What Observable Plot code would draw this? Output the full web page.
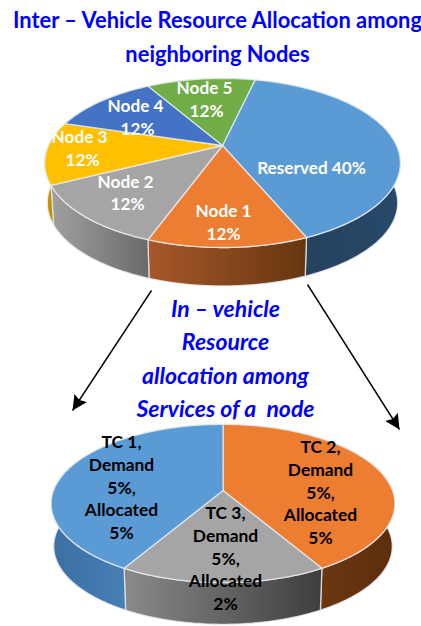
<!DOCTYPE html>
<html><head><meta charset="utf-8">
<script src="https://cdn.jsdelivr.net/npm/d3@7"></script>
<script src="https://cdn.jsdelivr.net/npm/@observablehq/plot@0.6"></script>
<style>html,body{margin:0;padding:0;background:#fff}svg{display:block}</style>
</head><body><div id="c"></div>
<script>
// Data
const nodeNames = ["Reserved", "Node 1", "Node 2", "Node 3", "Node 4", "Node 5"];
const nodeShares = [40, 12, 12, 12, 12, 12];
const tcNames = ["TC 2", "TC 3", "TC 1"];
const tcDemand = [5, 5, 5];
const tcAllocated = [5, 2, 5];
const titleLines = ["Inter – Vehicle Resource Allocation among", "neighboring Nodes"];
const subtitleLines = ["In – vehicle", "Resource", "allocation among", "Services of a\u00a0 node"];

// Style
const nodeTop = ["#5B9BD5", "#ED7D31", "#A5A5A5", "#FFC000", "#4472C4", "#70AD47"];
const nodeWall = [["#233F57", "#27496A"], ["#A8582A", "#66360F"], ["#A0A0A0", "#6A6A6A"], ["#C99700", "#A98000"], ["#2F4F88", "#2F4F88"], ["#4E7A31", "#4E7A31"]];
const tcTop = ["#ED7D31", "#A5A5A5", "#5B9BD5"];
const tcWall = [["#7E4317", "#5C2E0C"], ["#8A8A8A", "#3E3E3E"], ["#3C6FA2", "#5294CE"]];

// Layout: each pie is a tilted disc seen in perspective
const pieA = {cx: 222, cy: 145, a: 174, k: 80.9, p: 0.207, depth: 40, shrink: 0.985, start: 13};
const pieB = {cx: 222.5, cy: 490, a: 169.5, k: 77, p: 0.165, depth: 43, shrink: 0.985, start: 0};
const nodeLabelPos = [[[311, 168]], [[223, 211], [223, 234]], [[125, 182], [127, 204]], [[79, 137], [82, 160]], [[135, 106], [137, 129]], [[204, 88], [206, 111]]];
const tcLabelPos = [[320, 447], [225, 513], [121, 442]];
const titlePos = [[217, 20], [217, 54]];
const subtitlePos = [[225, 309], [225, 342], [225, 376], [225, 409]];
const arrows = [{x1: 151, y1: 290, x2: 72, y2: 410}, {x1: 307, y1: 284, x2: 399, y2: 429}];

function project(pie, deg, r = 1, lower = false) {
  const t = deg * Math.PI / 180, u = r * Math.sin(t), v = -r * Math.cos(t);
  const w = 1 / (1 - pie.p * v), s = lower ? pie.shrink : 1;
  return {x: pie.cx + s * pie.a * u * w, y: pie.cy + s * pie.k * v * w + (lower ? pie.depth : 0)};
}
function spans(values, start) {
  const sum = d3.sum(values);
  let a = start;
  return values.map(v => { const s = a; a += v / sum * 360; return [s, a]; });
}
function arc(pie, [s, e], lower = false) {
  const n = Math.ceil(e - s);
  return d3.range(n + 1).map(i => project(pie, s + (e - s) * i / n, 1, lower));
}
const gradId = (prefix, i) => `${prefix}-wall-${i}`;
function defsFor(prefix, stops) {
  return () => {
    const ns = "http://www.w3.org/2000/svg";
    const defs = document.createElementNS(ns, "defs");
    stops.forEach((st, i) => {
      const g = document.createElementNS(ns, "linearGradient");
      g.setAttribute("id", gradId(prefix, i));
      st.forEach((c, j) => {
        const s = document.createElementNS(ns, "stop");
        s.setAttribute("offset", j);
        s.setAttribute("stop-color", c);
        g.append(s);
      });
      defs.append(g);
    });
    return defs;
  };
}
const rim = {stroke: "#E8EEF4", strokeWidth: 1.3, strokeOpacity: 0.8};
function pieMarks(pie, values, tops, prefix) {
  const sp = spans(values, pie.start);
  const walls = sp.map((s, i) => {
    const top = arc(pie, s), bottom = arc(pie, s, true).reverse();
    const pts = [...top, ...bottom, top[0]];
    return Plot.line(pts, {x: "x", y: "y", fill: `url(#${gradId(prefix, i)})`, ...rim});
  });
  const slices = sp.map((s, i) => {
    const c = {x: pie.cx, y: pie.cy};
    return Plot.line([c, ...arc(pie, s), c], {x: "x", y: "y", fill: tops[i], ...rim});
  });
  return [...walls, ...slices];
}
function arrowHead(color) {
  const ns = "http://www.w3.org/2000/svg";
  const m = document.createElementNS(ns, "marker");
  m.setAttribute("viewBox", "0 0 12 12");
  m.setAttribute("refX", "12");
  m.setAttribute("refY", "6");
  m.setAttribute("markerWidth", "15");
  m.setAttribute("markerHeight", "15");
  m.setAttribute("markerUnits", "userSpaceOnUse");
  m.setAttribute("orient", "auto");
  const p = document.createElementNS(ns, "path");
  p.setAttribute("d", "M0,0L12,6L0,12L2,6Z");
  p.setAttribute("fill", color);
  p.setAttribute("stroke", "none");
  m.append(p);
  return m;
}

const font = "Lato, Carlito, sans-serif";
const nodeLabels = nodeNames.flatMap((n, i) => i === 0
  ? [{text: `${n} ${nodeShares[i]}%`, pos: nodeLabelPos[i][0]}]
  : [{text: n, pos: nodeLabelPos[i][0]}, {text: `${nodeShares[i]}%`, pos: nodeLabelPos[i][1]}]);
const tcLabels = tcNames.flatMap((n, i) => {
  const rows = [`${n},`, "Demand", `${tcDemand[i]}%,`, "Allocated", `${tcAllocated[i]}%`];
  return rows.map((text, r) => ({text, pos: [tcLabelPos[i][0], tcLabelPos[i][1] + r * 22.8]}));
});
const textMark = (rows, opts) => Plot.text(rows, {x: d => d.pos[0], y: d => d.pos[1], text: "text", fontFamily: font, fontWeight: 700, ...opts});

const chart = Plot.plot({
  width: 421, height: 626, margin: 0,
  style: {background: "#fff"},
  x: {domain: [0, 421], range: [0, 421], axis: null},
  y: {domain: [0, 626], range: [0, 626], axis: null},
  marks: [
    defsFor("a", nodeWall),
    defsFor("b", tcWall),
    ...pieMarks(pieA, nodeShares, nodeTop, "a"),
    ...pieMarks(pieB, tcAllocated, tcTop, "b"),
    Plot.link(arrows, {x1: "x1", y1: "y1", x2: "x2", y2: "y2", stroke: "#000", strokeWidth: 1.4, markerEnd: arrowHead}),
    textMark(titleLines.map((text, i) => ({text, pos: titlePos[i]})), {fontSize: 21.9, fill: "#0000FF"}),
    textMark(subtitleLines.map((text, i) => ({text, pos: subtitlePos[i]})), {fontSize: 23, fill: "#0000FF", fontStyle: "italic"}),
    textMark(nodeLabels, {fontSize: 17.2, fill: "#fff"}),
    textMark(tcLabels, {fontSize: 17.4, fill: "#000"})
  ]
});
document.getElementById("c").append(chart);
</script></body></html>
